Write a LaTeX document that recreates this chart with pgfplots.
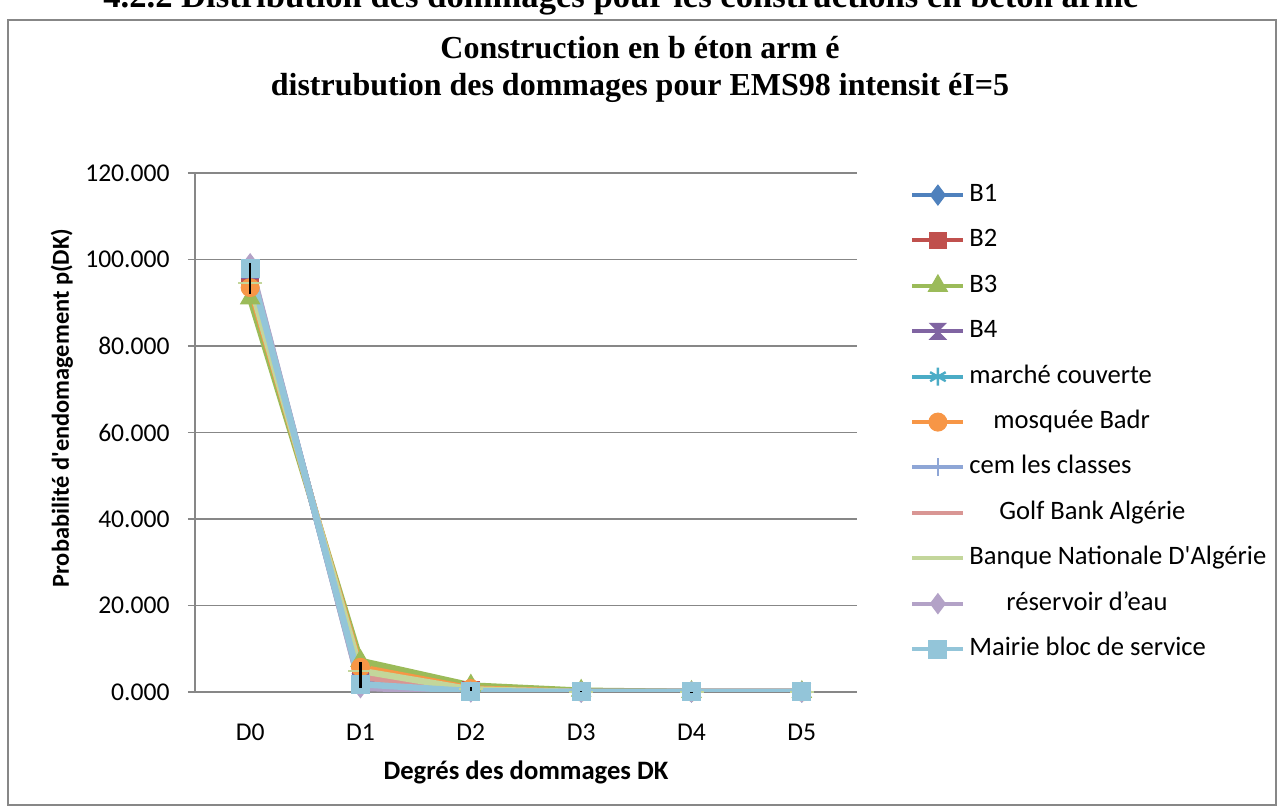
\documentclass[border=0pt]{standalone}
\usepackage{fontspec}
\setmainfont{Carlito}
\newfontfamily\timesfont{Liberation Serif}
\usepackage{pgfplots}
\usepackage{pgfplotstable}
\pgfplotsset{compat=1.18}

\definecolor{cB1}{HTML}{4F81BD}
\definecolor{cB2}{HTML}{C0504D}
\definecolor{cB3}{HTML}{9BBB59}
\definecolor{cB4}{HTML}{8064A2}
\definecolor{cMC}{HTML}{4BACC6}
\definecolor{cMB}{HTML}{F79646}
\definecolor{cCEM}{HTML}{8EA6D6}
\definecolor{cGB}{HTML}{D99694}
\definecolor{cBNA}{HTML}{C3D69B}
\definecolor{cRE}{HTML}{B3A2C7}
\definecolor{cMA}{HTML}{93C5D9}
\definecolor{frame}{HTML}{878787}

% marqueur "sablier" (le x epais d'Excel)
\pgfdeclareplotmark{hourglass}{%
  \pgfpathmoveto{\pgfpoint{-\pgfplotmarksize}{\pgfplotmarksize}}%
  \pgfpathlineto{\pgfpoint{\pgfplotmarksize}{\pgfplotmarksize}}%
  \pgfpathlineto{\pgfpoint{-\pgfplotmarksize}{-\pgfplotmarksize}}%
  \pgfpathlineto{\pgfpoint{\pgfplotmarksize}{-\pgfplotmarksize}}%
  \pgfpathclose\pgfusepathqfillstroke}

\pgfplotsset{frameaxis/.style={
  at={(0,0)}, anchor=south west,
  width=331pt, height=259.5pt, scale only axis,
  xmin=-0.5, xmax=5.5, ymin=0, ymax=120}}

% probabilites (%) par degre de dommage D0..D5
\pgfplotstableread{
x  B1    B2    B3    B4    MC    MB    CEM   GB    BNA   RE    MA
0  97.0  95.5  91.0  97.5  98.6  93.5  98.0  96.0  94.5  99.0  98.0
1  2.7   4.0   7.2   2.3   1.3   5.7   1.8   3.5   4.9   1.0   1.8
2  0.3   0.5   1.5   0.2   0.1   0.8   0.2   0.5   0.6   0.0   0.2
3  0.0   0.0   0.3   0.0   0.0   0.0   0.0   0.0   0.0   0.0   0.0
4  0.0   0.0   0.0   0.0   0.0   0.0   0.0   0.0   0.0   0.0   0.0
5  0.0   0.0   0.0   0.0   0.0   0.0   0.0   0.0   0.0   0.0   0.0
}\data

\begin{document}
\begin{tikzpicture}
\useasboundingbox (-97.5pt,-57.5pt) rectangle (543pt,346pt);
\fill[white] (-97.5pt,-57.5pt) rectangle (543pt,346pt);
\node[anchor=base west, inner sep=0pt] at (-46pt,342pt)
  {\timesfont\bfseries\fontsize{17.3}{20}\selectfont 4.2.2 Distribution des dommages pour les constructions en b\'eton arm\'e};
\draw[frame, line width=1pt] (-93.5pt,-56.5pt) rectangle (540.5pt,336pt);
\node[align=center, inner sep=0pt, font=\timesfont\bfseries\fontsize{16}{18.5}\selectfont]
  at (222.5pt,311.5pt) {Construction en b éton arm é\\[0pt]distrubution des dommages pour EMS98 intensit éI=5};

\begin{axis}[
  frameaxis,
  xtick={0,1,2,3,4,5},
  xticklabels={D0,D1,D2,D3,D4,D5},
  ytick={0,20,40,60,80,100,120},
  axis x line*=bottom, axis y line*=left,
  axis line style={frame, line width=0.8pt, -},
  ymajorgrids, grid style={frame, line width=0.8pt},
  xtick style={draw=none},
  ytick style={frame, line width=0.8pt},
  tick align=outside, major tick length=3.5pt,
  tick label style={font=\fontsize{12.8}{15}\selectfont},
  yticklabel style={anchor=east, inner sep=0pt, xshift=-9pt},
  xticklabel style={anchor=base, inner sep=0pt, yshift=-21pt},
  /pgf/number format/.cd, fixed, fixed zerofill, precision=3, assume math mode=true,
  /pgfplots/.cd,
  xlabel={Degrés des dommages DK},
  ylabel={Probabilité d\textquotesingle endomagement p(DK)},
  xlabel style={font=\bfseries\fontsize{13.3}{15}\selectfont, at={(axis description cs:0.5,-0.1541)}, anchor=center},
  ylabel style={font=\bfseries\fontsize{12.2}{14}\selectfont, at={(axis description cs:-0.2009,0.547)}, anchor=center},
  every axis plot/.append style={line width=3.2pt},
  legend image code/.code={
    \draw[mark repeat=2, mark phase=2, #1, line width=2pt]
      plot coordinates {(0pt,0pt) (12.75pt,0pt) (25.5pt,0pt)};},
  legend cell align=left,
  legend style={draw=none, fill=none, at={(rel axis cs:1.071,0.99)}, anchor=north west,
    font=\fontsize{13.3}{15}\selectfont, row sep=10.2pt, column sep=2pt,
    nodes={inner sep=0pt, text height=9.5pt, text depth=3pt}},
]
\addplot[cB1, mark=diamond*, mark size=5pt, mark options={fill=cB1, line width=0.5pt}] table[x=x, y=B1] {\data};
\addlegendentry{B1}
\addplot[cB2, mark=square*, mark size=4.2pt, mark options={fill=cB2, line width=0.5pt}] table[x=x, y=B2] {\data};
\addlegendentry{B2}
\addplot[cB3, mark=triangle*, mark size=5.5pt, mark options={fill=cB3, line width=0.5pt}] table[x=x, y=B3] {\data};
\addlegendentry{B3}
\addplot[cB4, mark=hourglass, mark size=4pt, mark options={fill=cB4, line width=0.5pt}] table[x=x, y=B4] {\data};
\addlegendentry{B4}
\addplot[cMC, mark=asterisk, mark size=4.5pt, mark options={line width=1.2pt}] table[x=x, y=MC] {\data};
\addlegendentry{marché couverte}
\addplot[cMB, mark=*, mark size=4.5pt, mark options={fill=cMB, line width=0.5pt}] table[x=x, y=MB] {\data};
\addlegendentry{\hspace*{12pt}mosquée Badr}
\addplot[cCEM, mark=+, mark size=4.5pt, mark options={line width=1pt}] table[x=x, y=CEM] {\data};
\addlegendentry{cem les classes}
\addplot[cGB, mark=-, mark size=4.5pt, mark options={line width=1pt}] table[x=x, y=GB] {\data};
\addlegendentry{\hspace*{15pt}Golf Bank Algérie}
\addplot[cBNA, mark=-, mark size=6pt, mark options={line width=1pt}] table[x=x, y=BNA] {\data};
\addlegendentry{Banque Nationale D\textquotesingle Algérie}
\addplot[cRE, mark=diamond*, mark size=5pt, mark options={fill=cRE, line width=0.5pt}] table[x=x, y=RE] {\data};
\addlegendentry{\hspace*{18.5pt}réservoir d’eau}
\addplot[cMA, mark=square*, mark size=4.5pt, mark options={fill=cMA, line width=0.5pt}] table[x=x, y=MA] {\data};
\addlegendentry{Mairie bloc de service}
\end{axis}

% barres d'erreur noires par-dessus les marqueurs (meme repere)
\begin{axis}[frameaxis, hide axis, clip=false]
\addplot[black, line width=1.2pt, mark=none, unbounded coords=jump]
  coordinates {(0,92.0) (0,99.2) (0,nan) (1,0.9) (1,6.9) (1,nan) (2,0.3) (2,1.1) (2,nan) (3,0.0) (3,0.2) (3,nan) (4,0.0) (4,0.1)};
\end{axis}
\end{tikzpicture}
\end{document}
